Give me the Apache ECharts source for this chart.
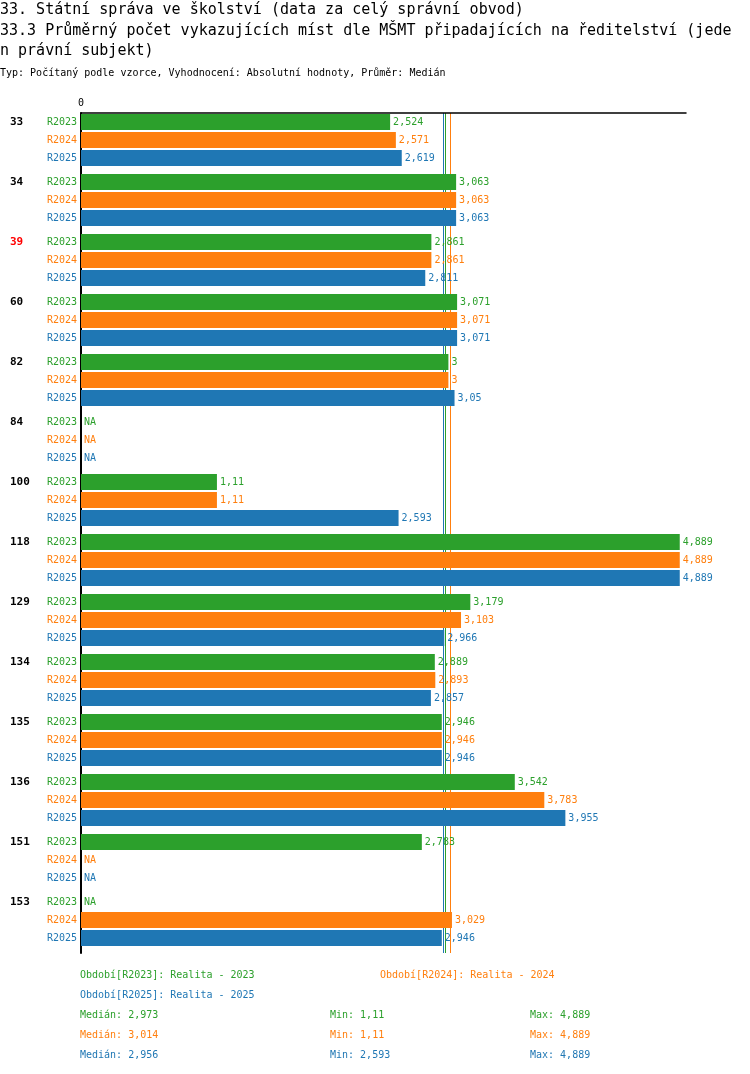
<!DOCTYPE html>
<html>
<head>
<meta charset="utf-8">
<script src="https://cdn.jsdelivr.net/npm/echarts@6/dist/echarts.min.js"></script>
<style>
  html, body { margin: 0; padding: 0; background: #fff; }
  #chart { width: 750px; height: 1074px; }
</style>
</head>
<body>
<div id="chart"></div>
<script>
// data
var groups = ['33', '34', '39', '60', '82', '84', '100', '118', '129', '134', '135', '136', '151', '153'];
var highlighted = ['39'];
var periods = ['R2023', 'R2024', 'R2025'];
var periodNames = ['Realita - 2023', 'Realita - 2024', 'Realita - 2025'];
var v2023 = [2.524, 3.063, 2.861, 3.071, 3, null, 1.11, 4.889, 3.179, 2.889, 2.946, 3.542, 2.783, null];
var v2024 = [2.571, 3.063, 2.861, 3.071, 3, null, 1.11, 4.889, 3.103, 2.893, 2.946, 3.783, null, 3.029];
var v2025 = [2.619, 3.063, 2.811, 3.071, 3.05, null, 2.593, 4.889, 2.966, 2.857, 2.946, 3.955, null, 2.946];
var medians = [2.973, 3.014, 2.956];
var mins = [1.11, 1.11, 2.593];
var maxs = [4.889, 4.889, 4.889];

var colors = ['#2ca02c', '#ff7f0e', '#1f77b4'];
var FONT = 'DejaVu Sans Mono';
var X_MAX = 4.94;
var values = [v2023, v2024, v2025];

// each group takes 10 slots, bars sit on slots 1, 4, 7
var SLOTS = groups.length * 10;
function slotOf(g, s) { return 10 * g + 1 + 3 * s; }

var slotPeriod = [];
var slotGroup = [];
for (var i = 0; i < SLOTS; i++) { slotPeriod.push(''); slotGroup.push(''); }
groups.forEach(function (g, gi) {
    periods.forEach(function (p, si) {
        slotPeriod[slotOf(gi, si)] = p;
    });
    slotGroup[slotOf(gi, 0)] = g;
});

function fmt(v) {
    return String(v).replace('.', ',');
}

var barSeries = periods.map(function (p, si) {
    var data = [];
    for (var i = 0; i < SLOTS; i++) data.push('-');
    values[si].forEach(function (v, gi) {
        data[slotOf(gi, si)] = v === null ? {value: 0, na: true} : v;
    });
    return {
        name: p,
        type: 'bar',
        xAxisIndex: 0,
        yAxisIndex: 0,
        barWidth: 16,
        barGap: '-100%',
        itemStyle: {color: colors[si]},
        label: {
            show: true,
            position: 'right',
            distance: 3,
            color: colors[si],
            fontFamily: FONT,
            fontSize: 10,
            formatter: function (params) {
                return params.data && params.data.na ? 'NA' : fmt(params.value);
            }
        },
        silent: true,
        data: data
    };
});

// median lines: hidden x axes whose only inner split line sits on the median,
// axis split lines are drawn under the bars
var medianAxes = medians.map(function (m, si) {
    return {
        type: 'value',
        position: 'top',
        min: 0,
        max: X_MAX,
        interval: m,
        axisLine: {show: false},
        axisTick: {show: false},
        axisLabel: {show: false},
        splitLine: {
            show: true,
            lineStyle: {color: ['rgba(0,0,0,0)', colors[si], 'rgba(0,0,0,0)'], width: 1}
        }
    };
});

var periodRich = {};
periods.forEach(function (p, si) {
    periodRich['p' + si] = {color: colors[si], fontFamily: FONT, fontSize: 10};
});

// legend and stats under the plot
var graphics = [];
function addText(x, y, text, color) {
    graphics.push({
        type: 'text',
        left: x,
        top: y - 5,
        style: {text: text, fill: color, font: '10px "' + FONT + '"'}
    });
}
addText(80, 975, 'Období[' + periods[0] + ']: ' + periodNames[0], colors[0]);
addText(380, 975, 'Období[' + periods[1] + ']: ' + periodNames[1], colors[1]);
addText(80, 995, 'Období[' + periods[2] + ']: ' + periodNames[2], colors[2]);
periods.forEach(function (p, si) {
    var y = 1015 + si * 20;
    addText(80, y, 'Medián: ' + fmt(medians[si]), colors[si]);
    addText(330, y, 'Min: ' + fmt(mins[si]), colors[si]);
    addText(530, y, 'Max: ' + fmt(maxs[si]), colors[si]);
});

var chart = echarts.init(document.getElementById('chart'));
chart.setOption({
    animation: false,
    backgroundColor: '#fff',
    title: [{
        text: '33. Státní správa ve školství (data za celý správní obvod)\n33.3 Průměrný počet vykazujících míst dle MŠMT připadajících na ředitelství (jede\nn právní subjekt)',
        left: 0,
        top: 0,
        padding: 0,
        textStyle: {fontFamily: FONT, fontSize: 15, fontWeight: 'normal', color: '#000', lineHeight: 20.5}
    }, {
        text: 'Typ: Počítaný podle vzorce, Vyhodnocení: Absolutní hodnoty, Průměr: Medián',
        left: 0,
        top: 67,
        padding: 0,
        textStyle: {fontFamily: FONT, fontSize: 10, fontWeight: 'normal', color: '#000', lineHeight: 12}
    }],
    grid: {left: 81, right: 64, top: 113, height: SLOTS * 6, containLabel: false},
    xAxis: [{
        type: 'value',
        position: 'top',
        min: 0,
        max: X_MAX,
        interval: 5,
        axisLine: {show: true, onZero: false, lineStyle: {color: '#000', width: 1.5}},
        axisTick: {show: false},
        splitLine: {show: false},
        axisLabel: {
            margin: 5,
            fontFamily: FONT,
            fontSize: 10,
            color: '#000',
            formatter: function (v) { return v === 0 ? '0' : ''; }
        }
    }].concat(medianAxes),
    yAxis: [{
        type: 'category',
        inverse: true,
        data: slotPeriod,
        axisLine: {show: true, onZero: false, lineStyle: {color: '#000', width: 2}},
        axisTick: {show: false},
        axisLabel: {
            interval: 0,
            margin: 4,
            formatter: function (v) {
                var si = periods.indexOf(v);
                return si < 0 ? '' : '{p' + si + '|' + v + '}';
            },
            rich: periodRich
        }
    }, {
        type: 'category',
        inverse: true,
        position: 'left',
        data: slotGroup,
        axisLine: {show: false},
        axisTick: {show: false},
        axisLabel: {
            interval: 0,
            margin: 71,
            align: 'left',
            formatter: function (v) {
                if (!v) return '';
                return highlighted.indexOf(v) >= 0 ? '{hi|' + v + '}' : '{n|' + v + '}';
            },
            rich: {
                n: {color: '#000', fontFamily: FONT, fontSize: 11, fontWeight: 'bold'},
                hi: {color: '#ff0000', fontFamily: FONT, fontSize: 11, fontWeight: 'bold'}
            }
        }
    }],
    series: barSeries,
    graphic: graphics
});
</script>
</body>
</html>
